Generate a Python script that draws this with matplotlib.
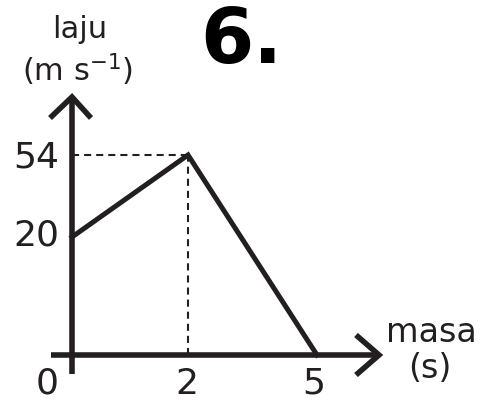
import numpy as np
import matplotlib.pyplot as plt

# graf laju-masa (soalan 6)
masa = [0, 2, 5]
laju = [20, 54, 0]
xticks = [0, 2, 5]
yticks = [20, 54]

INK = '#231f20'
W, H = 491, 401
FONT = ['Liberation Sans Narrow', 'DejaVu Sans']

# the sketch is not drawn to scale, so map values to pixels piecewise
x_anchor = [-10, 0, 2, 5, 15]
x_pix = [72 - 580, 72, 188, 317, 317 + 430]
y_anchor = [-20, 0, 20, 54, 120]
y_pix = [46 - 118, 46, 164, 246, 246 + 159]

def fx(v):
    return np.interp(v, x_anchor, x_pix)

def fx_inv(p):
    return np.interp(p, x_pix, x_anchor)

def fy(v):
    return np.interp(v, y_anchor, y_pix)

def fy_inv(p):
    return np.interp(p, y_pix, y_anchor)

def px(x, y):
    # pixel from top-left -> axes fraction
    return x / W, 1 - y / H

fig = plt.figure(figsize=(W / 100, H / 100), dpi=100)
ax = fig.add_axes([0, 0, 1, 1])
ax.set_xscale('function', functions=(fx, fx_inv))
ax.set_yscale('function', functions=(fy, fy_inv))
ax.set_xlim(fx_inv(0), fx_inv(W))
ax.set_ylim(fy_inv(0), fy_inv(H))
ax.axis('off')

# axes with open arrow heads
ax.axvline(0, ymin=(H - 374) / H, ymax=(H - 97) / H, color=INK, lw=4.0,
           solid_capstyle='butt')
ax.axhline(0, xmin=51 / W, xmax=379 / W, color=INK, lw=4.0,
           solid_capstyle='butt')
for pts in ([(50, 118), (72, 97), (91, 118)],
            [(356, 335), (379, 355), (356, 375)]):
    xs, ys = zip(*[px(a, b) for a, b in pts])
    ax.plot(xs, ys, transform=ax.transAxes, color=INK, lw=4.0,
            solid_joinstyle='miter', solid_capstyle='butt')

# guide lines to the peak
ax.plot([0, masa[1]], [laju[1], laju[1]], color=INK, lw=1.5, dashes=(3.4, 2.4))
ax.plot([masa[1], masa[1]], [0, laju[1]], color=INK, lw=1.5, dashes=(3.4, 2.4))

ax.plot(masa, laju, color=INK, lw=3.6, solid_joinstyle='miter', zorder=3)

# tick labels
x_off = {0: -25, 2: -1, 5: -3}
for v in xticks:
    ax.annotate(str(v), (v, 0), xytext=(x_off[v], -29), textcoords='offset pixels',
                ha='center', va='center', fontsize=26, color=INK, family=FONT)
y_off = {20: 1, 54: -3}
for v in yticks:
    ax.annotate(str(v), (0, v), xytext=(-36, y_off[v]), textcoords='offset pixels',
                ha='center', va='center', fontsize=26, color=INK, family=FONT)

# axis titles
ax.text(*px(80, 30), 'laju', transform=ax.transAxes, ha='center', va='center',
        fontsize=22, color=INK, family=FONT)
ax.text(*px(78, 70), '(m s$^{-1}$)', transform=ax.transAxes, ha='center',
        va='center', fontsize=22, color=INK, family=FONT)
ax.text(*px(431, 333), 'masa', transform=ax.transAxes, ha='center', va='center',
        fontsize=24, color=INK, family=FONT)
ax.text(*px(430, 368), '(s)', transform=ax.transAxes, ha='center', va='center',
        fontsize=24, color=INK, family=FONT)

# question number
ax.text(*px(241, 42), '6.', transform=ax.transAxes, ha='center', va='center',
        fontsize=55, fontweight='bold', color='black', family=FONT)

fig.savefig('out.png', dpi=100)
